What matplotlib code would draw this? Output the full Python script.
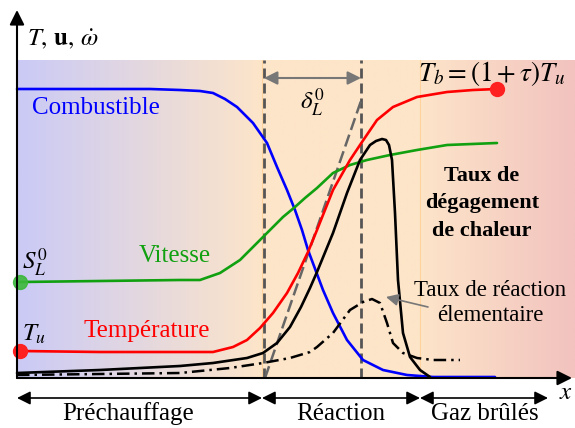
import numpy as np
import matplotlib
matplotlib.use('Agg')
import matplotlib.pyplot as plt
from matplotlib.colors import LinearSegmentedColormap

plt.rcParams['font.family'] = ['Liberation Serif', 'DejaVu Serif']
plt.rcParams['mathtext.fontset'] = 'stix'

# Schematic flame structure, arbitrary units (origin = corner of the axes)
x_fuel = [0, 83, 133, 163, 183, 196, 208, 220, 236, 250, 260, 270, 278, 285, 291, 306, 316, 330, 346, 366, 390, 416, 478]
y_fuel = [289, 289, 289, 288, 287, 285, 279, 271, 255, 235, 211, 188, 168, 148, 128, 88, 65, 38, 18, 8, 3, 1, 1]

x_temp = [3, 83, 163, 196, 216, 230, 243, 256, 270, 281, 291, 300, 316, 333, 345, 360, 376, 400, 430, 456, 480]
y_temp = [27, 26, 26, 26, 31, 38, 50, 65, 85, 105, 126, 148, 188, 218, 236, 258, 271, 281, 286, 288, 289]

x_vit = [3, 83, 163, 183, 203, 223, 240, 253, 266, 278, 288, 300, 316, 333, 350, 373, 400, 430, 480]
y_vit = [96, 97, 98, 98, 105, 118, 135, 148, 161, 171, 180, 190, 205, 213, 218, 223, 228, 233, 235]

x_heat = [0, 83, 163, 196, 230, 246, 260, 273, 284, 293, 300, 316, 330, 343, 353, 359, 365, 369, 372, 375, 378, 381, 386, 393, 403, 413]
y_heat = [5, 8, 12, 15, 20, 25, 35, 51, 71, 90, 106, 145, 185, 218, 233, 237, 239, 238, 233, 218, 165, 98, 45, 21, 8, 1]

x_elem = [0, 83, 163, 213, 246, 273, 283, 293, 300, 316, 333, 346, 355, 363, 370, 376, 386, 400, 416, 443]
y_elem = [3, 4, 5, 10, 15, 20, 23, 26, 31, 45, 68, 76, 79, 75, 55, 35, 25, 20, 18, 18]

x_tangent = [248, 345]
y_tangent = [0, 280]

x_front = [247, 344]          # flame thickness delta_L^0
dot_x = [3, 3, 480]
dot_y = [27, 96, 289]

zones = ['Préchauffage', 'Réaction', 'Gaz brûlés']
zone_bounds = [0, 245, 403, 531]
zone_label_x = [111, 324, 468]

fig = plt.figure(figsize=(5.75, 4.28), dpi=100)
ax = fig.add_axes([0, 0, 1, 1])
ax.set_xlim(-17, 558)
ax.set_ylim(-50, 378)
ax.axis('off')

# background gradient
cmap = LinearSegmentedColormap.from_list(
    'bg', [(0, '#CACAF6'), (245 / 558, '#FDE5C9'), (403 / 558, '#FDE5C9'), (1, '#F2C3BF')])
ax.imshow(np.linspace(0, 1, 600)[None, :], cmap=cmap, aspect='auto',
          extent=[0, 558, 0, 318], zorder=0)
for xb in zone_bounds[1:3]:
    ax.plot([xb, xb], [0, 318], color='#FFD39B', lw=0.8, zorder=1)

# flame thickness markers
for xf in x_front:
    ax.plot([xf, xf], [0, 318], color='#555555', lw=2, dashes=[3.6, 1.8], zorder=2)
ax.plot(x_tangent, y_tangent, color='#666666', lw=1.8, dashes=[5, 2], zorder=2)
ax.annotate('', xy=(x_front[0], 300), xytext=(x_front[1], 300),
            arrowprops=dict(arrowstyle='<|-|>', color='#777777', lw=1.5,
                            mutation_scale=20, shrinkA=0, shrinkB=0))
ax.text(sum(x_front) / 2, 276, r'$\delta_L^0$', fontsize=18, ha='center', va='center')

# curves
kw = dict(lw=1.9, zorder=3, solid_joinstyle='round', solid_capstyle='round')
ax.plot(x_fuel, y_fuel, color='#0000FF', **kw)
ax.plot(x_vit, y_vit, color='#10A010', **kw)
ax.plot(x_temp, y_temp, color='#FF0000', **kw)
ax.plot(x_heat, y_heat, color='black', **kw)
ax.plot(x_elem, y_elem, color='black', lw=1.8, dashes=[5, 2, 1, 2], zorder=3)
ax.plot(dot_x[::2], dot_y[::2], 'o', color='#FF2020', ms=10, zorder=4)
ax.plot(dot_x[1], dot_y[1], 'o', color='#3CB83C', ms=10, alpha=0.9, zorder=4)

# axes arrows
ax.annotate('', xy=(555, 0), xytext=(0, 0),
            arrowprops=dict(arrowstyle='-|>', color='black', lw=1.5,
                            mutation_scale=22, shrinkA=0, shrinkB=0), zorder=5)
ax.annotate('', xy=(0, 368), xytext=(0, 0),
            arrowprops=dict(arrowstyle='-|>', color='black', lw=1.5,
                            mutation_scale=22, shrinkA=0, shrinkB=0), zorder=5)
ax.text(549, -15, r'$x$', fontsize=18, ha='center', va='center')
ax.text(10, 338, r'$T,\, \mathbf{u},\, \dot{\omega}$', fontsize=18, ha='left', va='center')

# labels
ax.text(15, 270, 'Combustible', color='#0000FF', fontsize=18, va='center')
ax.text(194, 122, 'Vitesse', color='#10A010', fontsize=18, ha='right', va='center')
ax.text(193, 47, 'Température', color='#FF0000', fontsize=18, ha='right', va='center')
ax.text(5, 116, r'$S_L^0$', fontsize=18, va='center')
ax.text(5, 44, r'$T_u$', fontsize=18, va='center')
ax.text(401, 305, r'$T_b = (1+\tau)T_u$', fontsize=19.5, va='center')
ax.text(465, 175, 'Taux de\ndégagement\nde chaleur', fontsize=16, fontweight='bold',
        ha='center', va='center', linespacing=1.5)
ax.text(473, 75, 'Taux de réaction\nélementaire', fontsize=16.5, ha='center', va='center',
        linespacing=1.3)
ax.annotate('', xy=(369, 81), xytext=(411, 71),
            arrowprops=dict(arrowstyle='-|>', color='#777777', lw=1.2,
                            mutation_scale=18, shrinkA=0, shrinkB=0))

# zones
for name, a, b, xl in zip(zones, zone_bounds[:-1], zone_bounds[1:], zone_label_x):
    ax.annotate('', xy=(a, -20), xytext=(b, -20),
                arrowprops=dict(arrowstyle='<|-|>', color='black', lw=1.2,
                                mutation_scale=20, shrinkA=0, shrinkB=0))
    ax.text(xl, -36, name, fontsize=18, ha='center', va='center')

fig.savefig('out.png', dpi=100)
